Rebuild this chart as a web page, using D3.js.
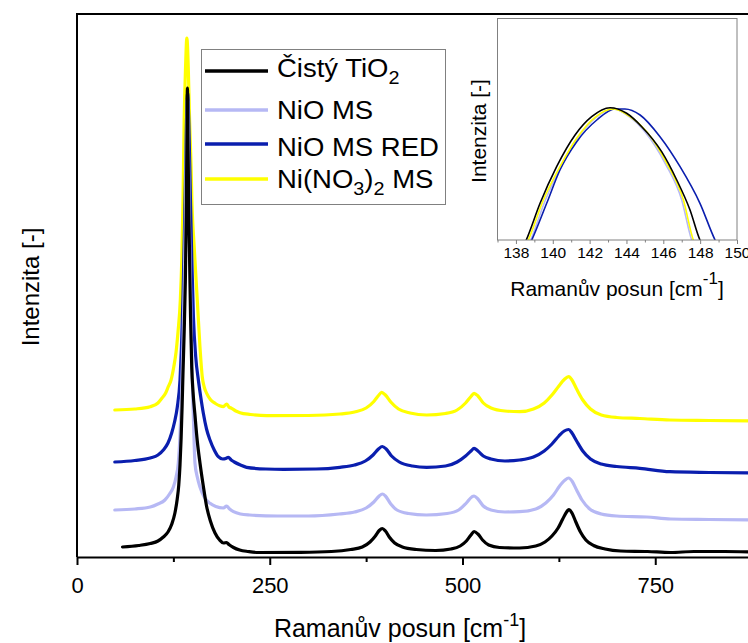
<!DOCTYPE html>
<html>
<head>
<meta charset="utf-8">
<script src="https://cdn.jsdelivr.net/npm/d3@7"></script>
<style>
  html, body { margin: 0; padding: 0; background: #ffffff; }
  svg { display: block; font-family: "Liberation Sans", Arial, sans-serif; }
</style>
</head>
<body>
<svg id="chart" width="748" height="643"></svg>
<script>
// ---------------- DATA ----------------
const seriesNames = ["Čistý TiO2", "NiO MS", "NiO MS RED", "Ni(NO3)2 MS"];
const xMajorTicks = [0, 250, 500, 750];
const xMinorTicks = [125, 375, 625];
const insetMajorTicks = [138, 140, 142, 144, 146, 148, 150];
const insetMinorTicks = [137, 139, 141, 143, 145, 147, 149];

// Main spectra: [Raman shift cm-1, intensity (a.u., stacked offsets)]
const cistyTiO2 = [[59,10],[80,11.5],[95,13.5],[105,16],[112,20],[118,25],[123,33],[127,44],[130,58],[132,72],[133.6,92],[135,118],[136.3,150],[137.5,185],[139,225],[140.5,275],[141.7,340],[142.5,410],[143.2,469],[143.9,420],[144.8,360],[146,300],[147.3,240],[148.8,190],[150.5,165],[153,142],[156,116],[159.5,94],[164,70],[168,51],[173,36],[179,24],[185,17],[190,14],[194,14.5],[197,12.5],[203,9.5],[211,7],[222,5.5],[235,4.5],[290,4.7],[330,5.5],[355,7.5],[370,10],[380,15],[387,21],[392,26.5],[396,28.5],[400,26],[405,20],[412,14],[422,10],[440,7.5],[465,6.5],[485,8],[497,11],[505,16],[511,22],[515,25.5],[520,23],[526,17],[534,12],[548,9.5],[574,9],[595,11],[607,15],[616,21],[624,29],[630,38],[635,45],[638,47.5],[642,44],[647,35],[653,25],[660,17],[670,11.5],[685,8],[705,6],[740,5.5],[770,4.5],[800,5.5],[840,5.5],[880,5]];
const nioMS = [[49,47],[75,48],[95,50],[105,53],[114,57],[120,63],[125,70],[128.5,80],[131.4,94],[133.5,120],[135.5,160],[137.5,215],[139.3,280],[140.8,350],[142,420],[143.2,458],[144.3,420],[145.5,350],[147,280],[148.5,215],[150,165],[151.5,125],[153,94],[156,80],[159.5,70],[165,60],[172.5,53.7],[180,50.5],[190,49],[194,51],[198,48],[203,45.3],[212,43],[224,42],[260,41],[300,41],[340,43],[360,45],[375,49],[385,55],[392,61],[396,63],[400,61],[407,53],[415,47],[430,43.5],[453,42],[480,43.5],[495,47],[505,54],[512,60],[515,61],[520,58],[527,51],[537,47],[555,45],[574,45.3],[595,48],[608,54],[618,62],[626,71],[633,77],[637.7,79],[642,76],[648,67],[655,57],[665,48],[680,43],[700,41],[739,40],[770,38],[820,37.5],[880,37]];
const nioMSred = [[49,95],[75,96.5],[95,99],[105,102],[112,107],[118,114],[122.8,124],[126.5,135],[130.1,150],[133.6,177],[135.5,210],[137.5,260],[139.2,320],[140.7,380],[142,435],[143.5,464],[145,435],[146.8,370],[148.8,300],[151,240],[154,200],[157.4,177],[160.5,160],[163.8,144],[168,128],[172.5,117],[178,107],[183.3,100.3],[189,98],[193,98.5],[196.3,99.7],[200,97],[204,95],[212,92],[220,89.7],[245,88],[268,87.7],[310,88],[341,89.7],[360,92],[374,96],[384,102],[391,108],[396,110.5],[401,108],[408,101],[418,95],[435,91],[453.5,89.7],[478,91],[493,95],[504,101],[511,106],[515,108.7],[520,106],[527,101],[537,98],[555,96],[574,97],[592,100],[606,106],[616,113],[625,121],[632,126],[637.7,127.5],[642,124],[648,116],[656,106],[666,98],[680,93],[700,90.5],[730,88.7],[769,85.3],[820,84.5],[880,84]];
const niNO3MS = [[49,147],[75,148],[95,150.3],[105,154],[110,158.7],[115,164],[118.4,170.3],[122,177],[125.5,190],[128.5,205],[131,225],[134,257],[136,300],[137.5,357],[139,437],[140.8,490],[142.5,519],[144.3,490],[146,437],[148,390],[149,357],[152,310],[156,257],[159.5,210],[162.5,180],[165,170],[168.2,163.7],[173,157.5],[179,153.7],[185,151.2],[189.8,150.3],[194.1,153],[197,150],[200.6,148.7],[206,146],[211.4,144.3],[225,142.5],[246,141.3],[300,141.5],[341,143],[360,145],[375,149],[385,155.5],[391,161.5],[395.2,164.7],[400,162],[407,155],[417,148],[432,144],[453.5,142],[478,143.5],[493,147],[504,154],[511,160.5],[515,163.7],[520,161],[527,154],[537,149],[555,146],[574,145.3],[592,148],[606,154],[616,162],[625,171],[632,177.5],[637.7,180.3],[642,177],[648,168],[656,157],[666,148],[680,142],[700,139.5],[730,138.5],[769,137],[820,136.5],[880,136]];

// Inset (zoom on main peak): [Raman shift cm-1, normalised intensity]
const insetCistyTiO2 = [[138.3,-10],[138.56,0],[139.31,36.7],[140.21,73.3],[141.21,105],[142.11,123.3],[143.11,132.3],[144.01,126.7],[144.83,113.3],[145.91,88.3],[146.73,60],[147.45,30],[147.99,0],[148.3,-10]];
const insetNioMS = [[138.55,-10],[138.8,0],[139.6,40],[140.45,73.3],[141.35,101.7],[142.35,122.7],[143.3,131],[144.15,123.3],[145.0,108.3],[146.1,76.7],[147.0,40],[147.54,0],[147.8,-10]];
const insetNioMSred = [[138.6,-10],[138.86,0],[139.67,36.7],[140.39,70],[141.3,98.3],[142.39,120],[143.38,131],[143.92,131],[144.74,125],[145.82,103.3],[146.91,73.3],[147.99,36.7],[148.81,0],[149.1,-10]];
const insetNiNO3MS = [[138.4,-10],[138.67,0],[139.49,40],[140.39,73.3],[141.3,101.7],[142.29,122.7],[143.29,131],[144.2,123.3],[145.1,108.3],[146.19,76.7],[147.09,40],[147.63,0],[147.9,-10]];

const mainSeries = [cistyTiO2, nioMS, nioMSred, niNO3MS];
const insetSeries = [insetCistyTiO2, insetNioMS, insetNioMSred, insetNiNO3MS];

// ---------------- STYLE ----------------
const colors = ["#000000", "#b6b8f4", "#0a1eae", "#ffff00"];
const drawOrder = [3, 2, 1, 0];

const svg = d3.select("#chart");
svg.append("rect").attr("width", 748).attr("height", 643).attr("fill", "#ffffff");

// ---------------- MAIN CHART ----------------
const x = d3.scaleLinear().domain([0, 1000]).range([77, 848]);
const y = d3.scaleLinear().domain([0, 543]).range([557, 14]);

const line = d3.line().x(d => x(d[0])).y(d => y(d[1])).curve(d3.curveMonotoneX);

const curves = svg.append("g");
drawOrder.forEach(i => {
  curves.append("path")
    .datum(mainSeries[i])
    .attr("d", line)
    .attr("fill", "none")
    .attr("stroke", colors[i])
    .attr("stroke-width", 3.2)
    .attr("stroke-linejoin", "round")
    .attr("stroke-linecap", "round");
});

// frame (left + top)
svg.append("line").attr("x1", 77).attr("x2", 77).attr("y1", 14).attr("y2", 557)
  .attr("stroke", "#000").attr("stroke-width", 2);
svg.append("line").attr("x1", 76).attr("x2", 848).attr("y1", 14).attr("y2", 14)
  .attr("stroke", "#000").attr("stroke-width", 2);

// x axis
const xAxis = svg.append("g").attr("transform", "translate(0,557)")
  .call(d3.axisBottom(x).tickValues(xMajorTicks).tickSize(8).tickSizeOuter(0).tickPadding(12).tickFormat(d3.format("d")));
xAxis.select(".domain").attr("stroke", "#000").attr("stroke-width", 2);
xAxis.selectAll(".tick line").attr("stroke", "#000").attr("stroke-width", 2);
xAxis.selectAll(".tick text").attr("font-size", 22).attr("fill", "#000")
  .attr("font-family", "Liberation Sans, Arial, sans-serif");
const xMinor = svg.append("g").attr("transform", "translate(0,557)")
  .call(d3.axisBottom(x).tickValues(xMinorTicks).tickSize(5).tickSizeOuter(0).tickFormat(""));
xMinor.select(".domain").remove();
xMinor.selectAll(".tick line").attr("stroke", "#000").attr("stroke-width", 2);

// axis titles
const xt = svg.append("text").attr("x", 400).attr("y", 637).attr("text-anchor", "middle")
  .attr("font-size", 25).attr("fill", "#000");
xt.append("tspan").text("Ramanův posun [cm");
xt.append("tspan").attr("font-size", 18).attr("dy", -11).text("-1");
xt.append("tspan").attr("dy", 11).text("]");

svg.append("text").attr("transform", "translate(39,287) rotate(-90)")
  .attr("text-anchor", "middle").attr("font-size", 24).attr("fill", "#000")
  .text("Intenzita [-]");

// ---------------- LEGEND ----------------
const legend = svg.append("g");
legend.append("rect").attr("x", 201.5).attr("y", 49.5).attr("width", 244).attr("height", 155)
  .attr("fill", "#ffffff").attr("stroke", "#808080").attr("stroke-width", 1);
const legendLineY = [71, 110, 144, 179];
const legendTextY = [77, 119, 156, 188];
seriesNames.forEach((name, i) => {
  legend.append("line").attr("x1", 205).attr("x2", 268)
    .attr("y1", legendLineY[i]).attr("y2", legendLineY[i])
    .attr("stroke", colors[i]).attr("stroke-width", 3.3);
  const t = legend.append("text")
    .attr("transform", `translate(277,${legendTextY[i]}) scale(1.1,1)`)
    .attr("font-size", 25).attr("fill", "#000");
  // render subscripts: digits are lowered, following text returns to baseline
  const parts = name.match(/[^\d]+|\d+/g);
  let lowered = false;
  parts.forEach(p => {
    if (/^\d+$/.test(p)) {
      t.append("tspan").attr("font-size", 18).attr("dy", 7).text(p);
      lowered = true;
    } else {
      const ts = t.append("tspan").text(p);
      if (lowered) { ts.attr("dy", -7); lowered = false; }
    }
  });
});

// ---------------- INSET ----------------
const xi = d3.scaleLinear().domain([137, 150]).range([497.5, 737]);
const yi = d3.scaleLinear().domain([0, 222]).range([240, 18]);
const inset = svg.append("g");
inset.append("rect").attr("x", 497.5).attr("y", 18.5).attr("width", 239.5).attr("height", 221.5)
  .attr("fill", "#ffffff");
svg.append("clipPath").attr("id", "insetClip").append("rect")
  .attr("x", 497.5).attr("y", 18.5).attr("width", 239.5).attr("height", 221.5);
const iline = d3.line().x(d => xi(d[0])).y(d => yi(d[1])).curve(d3.curveMonotoneX);
const insetCurves = inset.append("g").attr("clip-path", "url(#insetClip)");
[1, 2, 3, 0].forEach(i => {
  insetCurves.append("path").datum(insetSeries[i]).attr("d", iline)
    .attr("fill", "none").attr("stroke", colors[i]).attr("stroke-width", 1.6);
});
inset.append("rect").attr("x", 497.5).attr("y", 18.5).attr("width", 239.5).attr("height", 221.5)
  .attr("fill", "none").attr("stroke", "#808080").attr("stroke-width", 1);

const ixAxis = inset.append("g").attr("transform", "translate(0,240)")
  .call(d3.axisBottom(xi).tickValues(insetMajorTicks).tickSize(4).tickSizeOuter(0).tickPadding(3).tickFormat(d3.format("d")));
ixAxis.select(".domain").remove();
ixAxis.selectAll(".tick line").attr("stroke", "#808080");
ixAxis.selectAll(".tick text").attr("font-size", 15.5).attr("fill", "#000")
  .attr("font-family", "Liberation Sans, Arial, sans-serif");
const ixMinor = inset.append("g").attr("transform", "translate(0,240)")
  .call(d3.axisBottom(xi).tickValues(insetMinorTicks).tickSize(2.5).tickSizeOuter(0).tickFormat(""));
ixMinor.select(".domain").remove();
ixMinor.selectAll(".tick line").attr("stroke", "#808080");

const ixt = inset.append("text").attr("x", 617).attr("y", 296).attr("text-anchor", "middle")
  .attr("font-size", 21).attr("fill", "#000");
ixt.append("tspan").text("Ramanův posun [cm");
ixt.append("tspan").attr("font-size", 17).attr("dy", -12).text("-1");
ixt.append("tspan").attr("dy", 12).text("]");

inset.append("text").attr("transform", "translate(486,131) rotate(-90)")
  .attr("text-anchor", "middle").attr("font-size", 21).attr("fill", "#000")
  .text("Intenzita [-]");
</script>
</body>
</html>
